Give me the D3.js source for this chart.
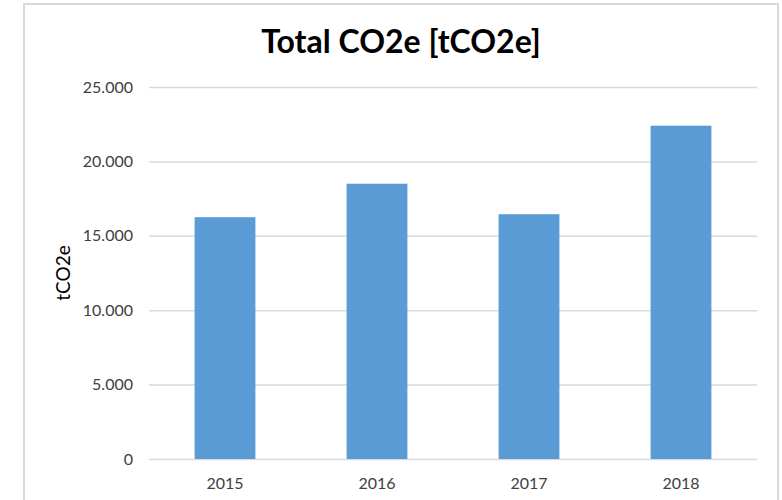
<!DOCTYPE html>
<html>
<head>
<meta charset="utf-8">
<script src="https://cdn.jsdelivr.net/npm/d3@7"></script>
<style>
  body { margin: 0; background: #fff; }
  text { font-family: Lato, "Open Sans", sans-serif; }
</style>
</head>
<body>
<svg id="chart" width="782" height="500"></svg>
<script>
const years = ['2015', '2016', '2017', '2018'];
const totals = [16250, 18500, 16450, 22400];
const yTicks = [0, 5000, 10000, 15000, 20000, 25000];

const svg = d3.select('#chart');
const margin = { top: 87, right: 25, bottom: 41, left: 149 };
const width = 782 - margin.left - margin.right;
const height = 500 - margin.top - margin.bottom;

// chart frame
svg.append('rect')
  .attr('x', 24).attr('y', 4)
  .attr('width', 754).attr('height', 520)
  .attr('fill', 'none')
  .attr('stroke', '#d9d9d9')
  .attr('stroke-width', 2);

const x = d3.scaleBand().domain(years).range([0, width]).paddingInner(0.6).paddingOuter(0.3);
const y = d3.scaleLinear().domain([0, 25000]).range([height, 0]);

const g = svg.append('g').attr('transform', `translate(${margin.left},${margin.top})`);

// gridlines
const yAxis = g.append('g')
  .call(d3.axisLeft(y).tickValues(yTicks).tickSize(-width).tickPadding(16)
    .tickFormat(d => d === 0 ? '0' : d3.format(',')(d).replace(/,/g, '.')));
yAxis.select('.domain').remove();
yAxis.selectAll('line').attr('stroke', '#d9d9d9').attr('stroke-width', 1.5);
yAxis.selectAll('text').attr('fill', '#404040').style('font-size', '16px');

// bars
g.selectAll('rect.bar')
  .data(years)
  .join('rect')
  .attr('class', 'bar')
  .attr('x', d => x(d))
  .attr('width', x.bandwidth())
  .attr('y', (d, i) => y(totals[i]))
  .attr('height', (d, i) => height - y(totals[i]))
  .attr('fill', '#5b9bd5');

// x axis labels
const xAxis = g.append('g')
  .attr('transform', `translate(0,${height})`)
  .call(d3.axisBottom(x).tickSize(0).tickPadding(19));
xAxis.select('.domain').remove();
xAxis.selectAll('text').attr('fill', '#404040').style('font-size', '16px');

// title
svg.append('text')
  .attr('x', 401).attr('y', 53)
  .attr('text-anchor', 'middle')
  .attr('font-weight', 'bold')
  .style('font-size', '32px')
  .attr('fill', '#000')
  .text('Total CO2e [tCO2e]');

// y axis title
svg.append('text')
  .attr('transform', `translate(70,${margin.top + height / 2}) rotate(-90)`)
  .attr('text-anchor', 'middle')
  .attr('fill', '#000')
  .style('font-size', '19px')
  .text('tCO2e');
</script>
</body>
</html>
